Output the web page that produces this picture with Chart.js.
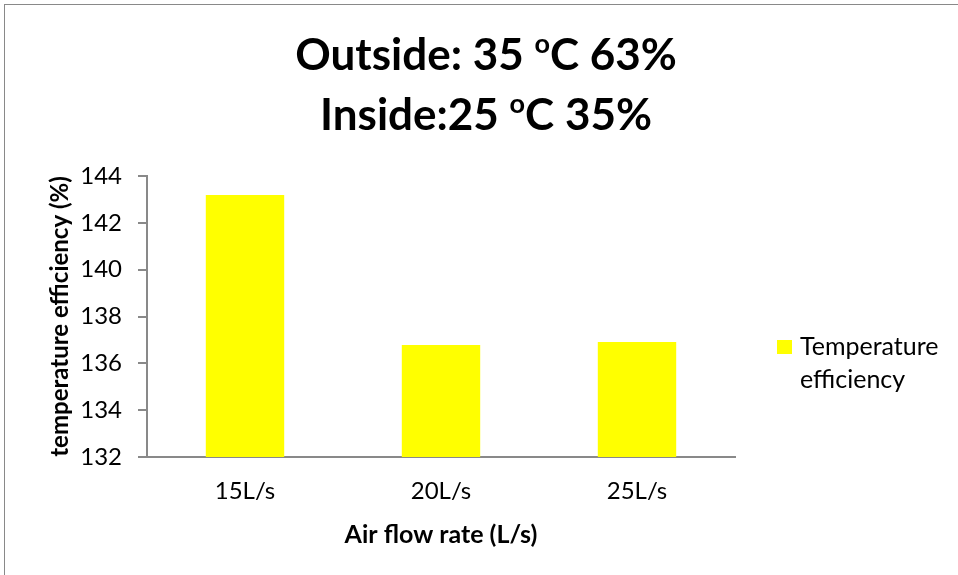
<!DOCTYPE html>
<html>
<head>
<meta charset="utf-8">
<title>Temperature efficiency</title>
<script src="https://cdn.jsdelivr.net/npm/chart.js@4/dist/chart.umd.min.js"></script>
<style>
  html, body { margin: 0; padding: 0; background: #fff; }
  canvas { display: block; }
</style>
</head>
<body>
<canvas id="chart" width="958" height="575"></canvas>
<script>
// データ
const flowRates = ['15L/s', '20L/s', '25L/s'];
const efficiency = [143.19, 136.78, 136.91];
const seriesName = 'Temperature efficiency';
const titleLines = ['Outside: 35 ºC 63%', 'Inside:25 ºC 35%'];
const yTicks = [132, 134, 136, 138, 140, 142, 144];

const AXIS_GRAY = '#898989';
const FONT = "Lato, 'Open Sans', sans-serif";

// 外枠
const framePlugin = {
  id: 'frame',
  beforeDraw(chart) {
    const { ctx } = chart;
    ctx.save();
    ctx.fillStyle = '#fff';
    ctx.fillRect(0, 0, chart.width, chart.height);
    ctx.strokeStyle = AXIS_GRAY;
    ctx.lineWidth = 1;
    ctx.strokeRect(4.5, 4.5, chart.width + 20, chart.height + 20);
    ctx.restore();
  },
};

// タイトル（º は上付きの小さい o として描く）
const superTitlePlugin = {
  id: 'superTitle',
  afterDraw(chart) {
    const { ctx } = chart;
    const big = `bold 44px ${FONT}`;
    const small = `bold 27px ${FONT}`;
    const centerX = 486;
    const baselines = [70, 130];
    ctx.save();
    ctx.fillStyle = '#000';
    ctx.textBaseline = 'alphabetic';
    titleLines.forEach((line, i) => {
      const parts = line.split('º');
      // 全体幅を先に測る
      let width = 0;
      parts.forEach((p, k) => {
        ctx.font = big;
        width += ctx.measureText(p).width;
        if (k < parts.length - 1) {
          ctx.font = small;
          width += ctx.measureText('o').width;
        }
      });
      let x = centerX - width / 2;
      parts.forEach((p, k) => {
        ctx.font = big;
        ctx.fillText(p, x, baselines[i]);
        x += ctx.measureText(p).width;
        if (k < parts.length - 1) {
          ctx.font = small;
          ctx.fillText('o', x, baselines[i] - 17);
          x += ctx.measureText('o').width;
        }
      });
    });
    ctx.restore();
  },
};

// 凡例（2行で折り返す）
const sideLegendPlugin = {
  id: 'sideLegend',
  afterDraw(chart) {
    const { ctx } = chart;
    const ds = chart.data.datasets[0];
    const words = ds.label.split(' ');
    ctx.save();
    ctx.fillStyle = ds.backgroundColor;
    ctx.fillRect(777, 340, 15, 14);
    ctx.fillStyle = '#000';
    ctx.font = `25px ${FONT}`;
    ctx.textAlign = 'left';
    ctx.textBaseline = 'middle';
    words.forEach((w, i) => ctx.fillText(w, 800, 347 + i * 33));
    ctx.restore();
  },
};

new Chart(document.getElementById('chart'), {
  type: 'bar',
  data: {
    labels: flowRates,
    datasets: [
      {
        label: seriesName,
        data: efficiency,
        backgroundColor: '#ffff00',
        borderWidth: 0,
        barPercentage: 0.4,
        categoryPercentage: 1,
      },
    ],
  },
  options: {
    responsive: false,
    animation: false,
    layout: {
      padding: { top: 176, right: 223, bottom: 0, left: 0 },
    },
    plugins: {
      legend: { display: false },
      title: { display: false },
      tooltip: { enabled: false },
    },
    scales: {
      x: {
        afterFit: (scale) => { scale.height = 118; },
        grid: { display: false, drawTicks: false },
        border: { display: true, color: AXIS_GRAY, width: 2 },
        ticks: {
          color: '#000',
          padding: 20,
          font: { family: FONT, size: 24 },
        },
        title: {
          display: true,
          text: 'Air flow rate (L/s)',
          color: '#000',
          font: { family: FONT, size: 25, weight: 'bold' },
          padding: { top: 0, bottom: 25 },
        },
      },
      y: {
        min: 132,
        max: 144,
        afterFit: (scale) => { scale.width = 147; },
        afterBuildTicks: (scale) => {
          scale.ticks = yTicks.map((v) => ({ value: v }));
        },
        grid: {
          drawOnChartArea: false,
          drawTicks: true,
          tickLength: 9,
          color: AXIS_GRAY,
          lineWidth: 2,
        },
        border: { display: true, color: AXIS_GRAY, width: 2 },
        ticks: {
          color: '#000',
          padding: 16,
          font: { family: FONT, size: 24 },
        },
        title: {
          display: true,
          text: 'temperature efficiency (%)',
          color: '#000',
          font: { family: FONT, size: 24, weight: 'bold' },
          padding: { top: 46, bottom: 0 },
        },
      },
    },
  },
  plugins: [framePlugin, superTitlePlugin, sideLegendPlugin],
});
</script>
</body>
</html>
